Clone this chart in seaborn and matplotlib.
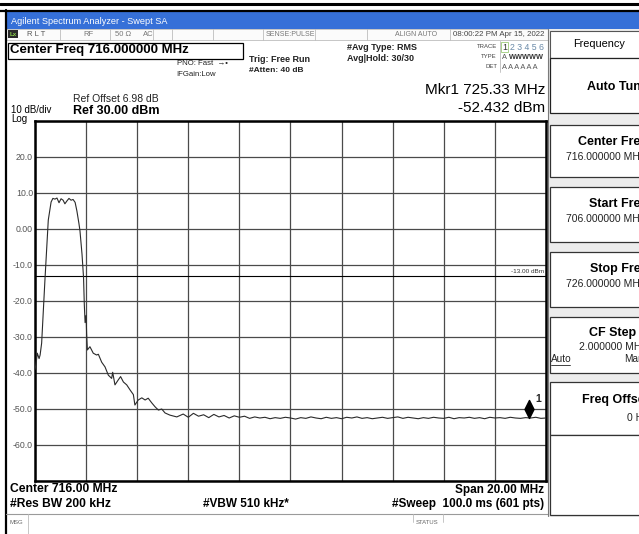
import matplotlib
matplotlib.use("Agg")
import matplotlib.pyplot as plt
from matplotlib.patches import Rectangle
from matplotlib.lines import Line2D
from matplotlib.path import Path
import pandas as pd
import seaborn as sns

# ---- trace data (MHz, dBm) ----
band_freq = [706.00, 706.04, 706.09, 706.16, 706.20, 706.26, 706.32, 706.39, 706.46,
             706.52, 706.63, 706.70, 706.78, 706.86, 706.94, 707.02, 707.10, 707.17,
             707.25, 707.33, 707.41, 707.49, 707.57, 707.64, 707.72, 707.76, 707.84,
             707.90, 707.93, 707.96, 708.00, 708.02]
band_level = [-39.0, -37.5, -34.5, -36.0, -35.0, -31.7, -23.3, -14.0, -5.0,
              2.5, 7.5, 8.5, 8.3, 8.6, 7.3, 8.4, 8.0, 7.0,
              7.8, 8.5, 8.0, 8.2, 7.4, 5.0, 1.5, -0.5, -7.0,
              -13.5, -21.0, -26.0, -24.0, -29.0]

skirt_freq = [708.05, 708.15, 708.28, 708.41, 708.48, 708.61, 708.74, 708.87, 709.00,
              709.04, 709.13, 709.26, 709.35, 709.46, 709.59, 709.72, 709.85, 709.91,
              710.04, 710.18, 710.31, 710.43, 710.57, 710.70, 710.83, 710.96, 711.09,
              711.28, 711.55]
skirt_level = [-33.6, -32.7, -34.5, -35.0, -34.8, -37.0, -38.3, -40.6, -41.5,
               -39.8, -43.3, -41.9, -41.0, -42.5, -43.3, -44.7, -46.0, -48.9,
               -47.5, -46.9, -47.5, -47.0, -48.3, -49.4, -50.3, -50.0, -51.1,
               -51.7, -52.2]

floor_freq = [711.8, 712.0, 712.2, 712.4, 712.6, 712.8, 713.0, 713.2, 713.4, 713.6,
              713.8, 714.0, 714.2, 714.4, 714.6, 714.8, 715.0, 715.2, 715.4, 715.6,
              715.8, 716.0, 716.2, 716.4, 716.6, 716.8, 717.0, 717.2, 717.4, 717.6,
              717.8, 718.0, 718.2, 718.4, 718.6, 718.8, 719.0, 719.2, 719.4, 719.6,
              719.8, 720.0, 720.2, 720.4, 720.6, 720.8, 721.0, 721.2, 721.4, 721.6,
              721.8, 722.0, 722.2, 722.4, 722.6, 722.8, 723.0, 723.2, 723.4, 723.6,
              723.8, 724.0, 724.2, 724.4, 724.6, 724.8, 725.0, 725.2, 725.4, 725.6,
              725.8, 726.0]
floor_level = [-51.4, -52.3, -51.2, -52.0, -51.6, -52.4, -51.5, -52.2, -51.8, -52.5,
               -51.9, -52.3, -52.0, -52.6, -52.2, -52.5, -52.3, -52.7, -52.4, -52.6,
               -52.3, -52.5, -52.8, -52.4, -52.6, -52.2, -52.5, -52.7, -52.3, -52.6,
               -52.4, -52.7, -52.3, -52.5, -52.2, -52.6, -52.4, -52.7, -52.5, -52.3,
               -52.6, -52.4, -52.2, -52.6, -52.3, -52.5, -52.7, -52.4, -52.6, -52.3,
               -52.5, -52.6, -52.3, -52.7, -52.4, -52.5, -52.3, -52.6, -52.4, -52.7,
               -52.3, -52.5, -52.4, -52.6, -52.3, -52.5, -52.6, -52.4, -52.5, -52.3,
               -52.6, -52.5]

mkr_freq = 725.33
mkr_level = -52.432
display_line = -13.0

y_ticks = [30, 20, 10, 0, -10, -20, -30, -40, -50, -60, -70]
y_tick_labels = ["", "20.0", "10.0", "0.00", "-10.0", "-20.0", "-30.0",
                 "-40.0", "-50.0", "-60.0", ""]
x_ticks = [706, 708, 710, 712, 714, 716, 718, 720, 722, 724, 726]

sns.set_style("white")
plt.rcParams["font.family"] = ["Liberation Sans", "DejaVu Sans"]

W, H = 639, 534
fig = plt.figure(figsize=(W / 100, H / 100), dpi=100)
fig.patch.set_facecolor("white")


def fx(x):
    return x / W


def fy(y):
    return 1 - y / H


def box(x0, y0, x1, y1, fc="white", ec="none", lw=1.0, z=-1):
    fig.add_artist(Rectangle((fx(x0), fy(y1)), (x1 - x0) / W, (y1 - y0) / H,
                             transform=fig.transFigure, facecolor=fc,
                             edgecolor=ec, lw=lw, zorder=z))


def hline(x0, x1, y, color="black", lw=1.0, z=0):
    fig.add_artist(Line2D([fx(x0), fx(x1)], [fy(y), fy(y)],
                          transform=fig.transFigure, color=color, lw=lw, zorder=z))


def vline(x, y0, y1, color="black", lw=1.0, z=0):
    fig.add_artist(Line2D([fx(x), fx(x)], [fy(y0), fy(y1)],
                          transform=fig.transFigure, color=color, lw=lw, zorder=z))


def txt(x, y, s, size=7, weight="normal", color="black", ha="left", **kw):
    fig.text(fx(x), fy(y), s, fontsize=size, fontweight=weight, color=color,
             ha=ha, va="center", **kw)


# ---- window frame ----
hline(0, W, 3.5, lw=2.2)
hline(0, W, 10.5, lw=1.6)
vline(5.5, 10, H, lw=1.6)
box(6, 12, W, 29, fc="#3670d8")
txt(11, 21, "Agilent Spectrum Analyzer - Swept SA", size=6.6, color="white",
    family=["Liberation Sans Narrow", "Liberation Sans"])

# ---- status row ----
box(6, 29, 548, 40, fc="#fbfbfb", ec="#bdbdbd", lw=0.6)
for sx in [60, 110, 153, 172, 213, 263, 315, 367, 450]:
    vline(sx, 29, 40, color="#bdbdbd", lw=0.6)
box(8, 30, 18, 38, fc="#2b2b2b", z=0)
txt(10, 34.3, "Lx", size=4.5, weight="bold", color="#8ad04a")
txt(27, 34.5, "R L T", size=5.5, color="#555555")
txt(83, 34.5, "RF", size=5.5, color="#777777")
txt(115, 34.5, "50 Ω", size=5.5, color="#777777")
txt(143, 34.5, "AC", size=5.5, color="#777777")
txt(266, 34.5, "SENSE:PULSE", size=5, color="#777777")
txt(395, 34.5, "ALIGN AUTO", size=5, color="#777777")
txt(453, 34.5, "08:00:22 PM Apr 15, 2022", size=5.7, color="#444444")

# ---- header annotations ----
box(8, 43, 243, 59, fc="white", ec="black", lw=0.9)
txt(10, 50.5, "Center Freq 716.000000 MHz", size=9.5, weight="bold")
txt(177, 63.5, "PNO: Fast  →•", size=5.6, color="#222222")
txt(176, 74, "IFGain:Low", size=5.6, color="#222222")
txt(249, 60, "Trig: Free Run", size=6.5, weight="bold", color="#222222")
txt(249, 71, "#Atten: 40 dB", size=6.0, weight="bold", color="#222222")
txt(347, 47, "#Avg Type: RMS", size=6.5, weight="bold", color="#222222")
txt(347, 58.5, "Avg|Hold: 30/30", size=6.5, weight="bold", color="#222222")
txt(497, 47, "TRACE", size=4.3, color="#444444", ha="right")
txt(497, 57, "TYPE", size=4.3, color="#444444", ha="right")
txt(497, 67, "DET", size=4.3, color="#444444", ha="right")
vline(500, 41, 72, color="#bbbbbb", lw=0.6)
box(501, 42, 508, 52, fc="none", ec="#9ccc7a", lw=0.6, z=0)
txt(502, 47.5, "1", size=6.3, color="#333333")
txt(510, 47.5, "2 3 4 5 6", size=6.3, color="#6a8aa8")
txt(502, 57.5, "A", size=5.3, color="#555555")
txt(509, 57.5, "WWWWW", size=5.3, color="#333333", weight="bold")
txt(502, 67.5, "A A A A A A", size=5.3, color="#555555")
txt(545, 90, "Mkr1 725.33 MHz", size=11, ha="right")
txt(545, 108, "-52.432 dBm", size=11, ha="right")
txt(73, 98.5, "Ref Offset 6.98 dB", size=7.5, color="#222222")
txt(73, 111, "Ref 30.00 dBm", size=9, weight="bold")
txt(11, 110, "10 dB/div", size=7.0)
txt(11, 119.5, "Log", size=7.0)

# ---- footer annotations ----
txt(10, 489.5, "Center 716.00 MHz", size=8.7, weight="bold")
txt(10, 504, "#Res BW 200 kHz", size=8.7, weight="bold")
txt(203, 504, "#VBW 510 kHz*", size=8.5, weight="bold")
txt(544, 489.5, "Span 20.00 MHz", size=8.5, weight="bold", ha="right")
txt(544, 504, "#Sweep  100.0 ms (601 pts)", size=8.5, weight="bold", ha="right")
hline(6, 548, 514, color="#9a9a9a", lw=0.8)
vline(28, 514, H, color="#bdbdbd", lw=0.6)
vline(413, 514, 522, color="#bdbdbd", lw=0.6)
vline(443, 514, 522, color="#bdbdbd", lw=0.6)
txt(10, 523, "MSG", size=4.3, color="#666666")
txt(416, 522, "STATUS", size=4.3, color="#666666")

# ---- softkey panel ----
box(548, 29, W, 517, fc="#ececec")
vline(548, 29, 516, color="#7a7a7a", lw=0.8)
box(550, 31, W + 5, 58, fc="white", ec="#555555", lw=0.8)
txt(599, 44, "Frequency", size=7.8, ha="center")
box(550, 58, W + 5, 113, fc="white", ec="#222222", lw=0.9)
txt(587, 87, "Auto Tune", size=9, weight="bold")
softkeys = [
    (125, 177, "Center Freq", "716.000000 MHz", 578, 566),
    (187, 242, "Start Freq", "706.000000 MHz", 589, 566),
    (252, 307, "Stop Freq", "726.000000 MHz", 590, 566),
]
for top, bot, title, value, tx, vx in softkeys:
    box(550, top, W + 5, bot, fc="white", ec="#333333", lw=0.9)
    txt(tx, top + 17, title, size=9, weight="bold")
    txt(vx, top + 32, value, size=7.5, color="#222222")
box(550, 317, W + 5, 373, fc="white", ec="#333333", lw=0.9)
txt(589, 333, "CF Step", size=9, weight="bold")
txt(579, 347, "2.000000 MHz", size=7.5, color="#222222")
txt(551, 359, "Auto", size=7.2, color="#222222")
hline(551, 570, 364.5, color="#222222", lw=0.6, z=2)
txt(624, 359, "Man", size=7.2, color="#222222")
box(550, 382, W + 5, 435, fc="white", ec="#333333", lw=0.9)
txt(582, 400, "Freq Offset", size=9, weight="bold")
txt(627, 418, "0 Hz", size=7.5, color="#222222")
box(550, 435, W + 5, 515, fc="white", ec="#333333", lw=0.9)

# ---- trace axes ----
ax = fig.add_axes([35 / W, (H - 481) / H, 511 / W, 360 / H])
ax.set_facecolor("white")

trace = pd.DataFrame({
    "freq": band_freq + skirt_freq + floor_freq,
    "level": band_level + skirt_level + floor_level,
})
sns.lineplot(data=trace, x="freq", y="level", ax=ax, color="#2a2a2a",
             lw=0.8, estimator=None, sort=False, zorder=3)

ax.set_xlim(706, 726)
ax.set_ylim(-70, 30)
ax.set_xticks(x_ticks)
ax.set_xticklabels([""] * len(x_ticks))
ax.set_yticks(y_ticks)
ax.set_yticklabels(y_tick_labels)
ax.tick_params(length=0, pad=1.5, labelsize=6.3, labelcolor="#555555")
ax.set_xlabel("")
ax.set_ylabel("")
ax.grid(True, color="#4a4a4a", lw=0.9)
ax.set_axisbelow(True)
for sp in ax.spines.values():
    sp.set_color("black")
    sp.set_linewidth(1.8)

ax.axhline(display_line, color="black", lw=0.8, zorder=2)
ax.text(725.92, display_line + 0.5, f"{display_line:.2f} dBm", ha="right",
        va="bottom", fontsize=4.6, color="#333333")

# marker 1: tall diamond sitting on the trace point
diamond = Path([(0, 0), (-0.25, 0.5), (0, 1), (0.25, 0.5), (0, 0)],
               [Path.MOVETO, Path.LINETO, Path.LINETO, Path.LINETO, Path.CLOSEPOLY])
ax.plot([mkr_freq], [mkr_level], marker=diamond, markersize=26, color="black",
        ls="none", zorder=4)
ax.annotate("1", (mkr_freq, mkr_level), xytext=(5, 10), textcoords="offset points",
            fontsize=7.5, weight="bold", ha="left", va="bottom")

fig.savefig("out.png", dpi=100)
